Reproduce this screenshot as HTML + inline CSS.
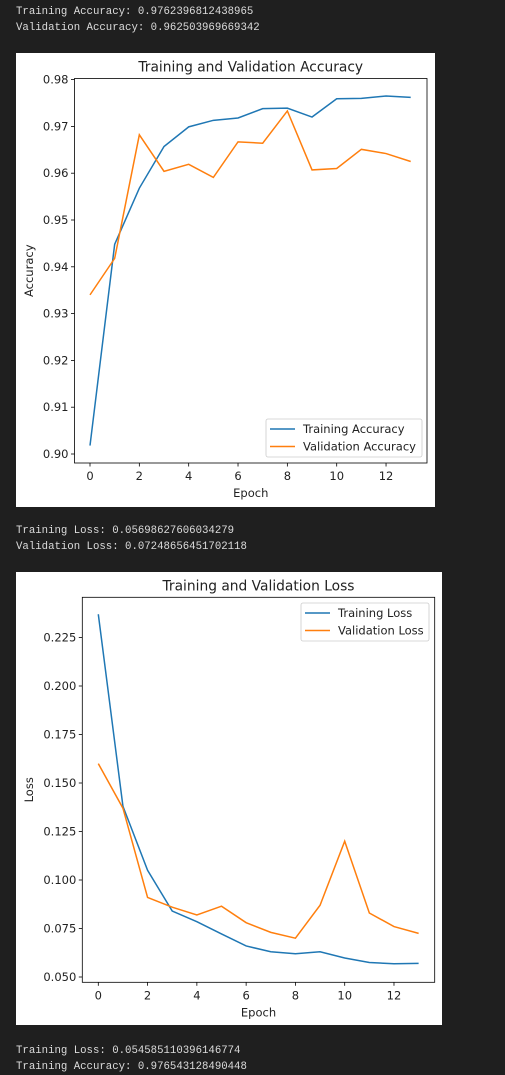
<!DOCTYPE html>
<html><head><meta charset="utf-8"><style>
body{margin:0;background:#1f1f1f;width:505px;height:1075px;position:relative;overflow:hidden;font-family:"DejaVu Sans","Liberation Sans",sans-serif}
.out{position:absolute;left:16px;font:10.7px "Liberation Mono",monospace;color:#dcdcdc;white-space:pre}
svg{position:absolute;left:0;top:0;font-family:"DejaVu Sans","Liberation Sans",sans-serif}
</style></head><body>
<div class="out" style="top:6px">Training Accuracy: 0.9762396812438965</div>
<div class="out" style="top:22px">Validation Accuracy: 0.962503969669342</div>
<div class="out" style="top:525px">Training Loss: 0.05698627606034279</div>
<div class="out" style="top:541px">Validation Loss: 0.07248656451702118</div>
<div class="out" style="top:1045px">Training Loss: 0.054585110396146774</div>
<div class="out" style="top:1061px">Training Accuracy: 0.976543128490448</div>
<svg id="s" width="505" height="1075"></svg>
<script>
const epochs=[0,1,2,3,4,5,6,7,8,9,10,11,12,13];
const trainAcc=[0.9018,0.9448,0.9568,0.9657,0.9699,0.9713,0.9718,0.9738,0.9739,0.9720,0.9759,0.9760,0.9765,0.9762];
const valAcc=[0.9340,0.9418,0.9682,0.9604,0.9619,0.9591,0.9667,0.9664,0.9733,0.9607,0.9610,0.9651,0.9642,0.9625];
const trainLoss=[0.237,0.138,0.105,0.084,0.0785,0.0722,0.066,0.063,0.062,0.063,0.0598,0.0575,0.0568,0.057];
const valLoss=[0.160,0.137,0.091,0.086,0.082,0.0865,0.078,0.073,0.070,0.087,0.120,0.083,0.076,0.0725];
const xTicks=[0,2,4,6,8,10,12];
const accTicks=[0.90,0.91,0.92,0.93,0.94,0.95,0.96,0.97,0.98];
const lossTicks=[0.050,0.075,0.100,0.125,0.150,0.175,0.200,0.225];
const NS="http://www.w3.org/2000/svg";
const svg=document.getElementById('s');
function mk(t,a,p){const e=document.createElementNS(NS,t);for(const k in a)e.setAttribute(k,a[k]);(p||svg).appendChild(e);return e;}
function chart(o){
  const g=mk('g',{});
  
  
  mk('rect',{x:o.box[0],y:o.box[1],width:o.box[2],height:o.box[3],fill:'#fff'},g);
  const X=v=>o.x0+(v-0)*o.xs;
  const Y=v=>o.yb+(v-o.ybv)*o.ys;
  const ti=mk('text',{x:(o.L+o.R)/2,y:o.T-7,'text-anchor':'middle','font-size':13.8,fill:'#222'},g);ti.textContent=o.title;
  
  
  xTicks.forEach(v=>{mk('line',{x1:X(v),x2:X(v),y1:o.B,y2:o.B+3.5,stroke:'#000','stroke-width':0.8},g);
    const t=mk('text',{x:X(v),y:o.B+17,'text-anchor':'middle','font-size':11.5,fill:'#222'},g);t.textContent=v;
    
    });
  o.yt.forEach(v=>{mk('line',{x1:o.L-3.5,x2:o.L,y1:Y(v),y2:Y(v),stroke:'#000','stroke-width':0.8},g);
    const t=mk('text',{x:o.L-6,y:Y(v)+4,'text-anchor':'end','font-size':11.5,fill:'#222'},g);t.textContent=v.toFixed(o.dec);
    
    });
  const xl=mk('text',{x:(o.L+o.R)/2,y:o.B+34,'text-anchor':'middle','font-size':11.5,fill:'#222'},g);xl.textContent='Epoch';
  
  
  const yl=mk('text',{x:0,y:0,'text-anchor':'middle','font-size':11.5,fill:'#222',transform:`translate(${o.ylx},${(o.T+o.B)/2}) rotate(-90)`},g);yl.textContent=o.ylabel;
  
  
  o.series.forEach(s=>{const p=mk('polyline',{points:epochs.map((e,i)=>X(e)+','+Y(s.d[i])).join(' '),fill:'none',stroke:s.c,'stroke-width':1.5},g);
    
    });
  mk('rect',{x:o.L,y:o.T,width:o.R-o.L,height:o.B-o.T,fill:'none',stroke:'#000','stroke-width':0.8},g);
  const lg=mk('g',{},g);
  
  
  mk('rect',{x:o.lg[0],y:o.lg[1],width:o.lg[2],height:o.lg[3],rx:2,fill:'#fff',stroke:'#ccc','stroke-width':0.8},lg);
  o.series.forEach((s,i)=>{const yy=o.lg[1]+10+i*17.5;
    mk('line',{x1:o.lg[0]+4,x2:o.lg[0]+29,y1:yy,y2:yy,stroke:s.c,'stroke-width':1.5},lg);
    const t=mk('text',{x:o.lg[0]+37,y:yy+4,'font-size':11.5,fill:'#222'},lg);t.textContent=s.label;
    
    });
}
chart({name:'accuracy-chart',box:[16,53,419,454],L:74.5,R:427,T:78.5,B:463,x0:90,xs:24.67,yb:454,ybv:0.90,ys:-4680,
  yt:accTicks,dec:2,title:'Training and Validation Accuracy',ylabel:'Accuracy',ylx:33,
  lg:[266,419,156,38],
  series:[{d:trainAcc,c:'#1f77b4',n:'training-accuracy-line',label:'Training Accuracy'},{d:valAcc,c:'#ff7f0e',n:'validation-accuracy-line',label:'Validation Accuracy'}]});
chart({name:'loss-chart',box:[16,572,426,453],L:82.3,R:434.7,T:597.3,B:982.3,x0:98.3,xs:24.64,yb:977,ybv:0.05,ys:-1940,
  yt:lossTicks,dec:3,title:'Training and Validation Loss',ylabel:'Loss',ylx:33,
  lg:[301,603,128,38],
  series:[{d:trainLoss,c:'#1f77b4',n:'training-loss-line',label:'Training Loss'},{d:valLoss,c:'#ff7f0e',n:'validation-loss-line',label:'Validation Loss'}]});
</script>
</body></html>
